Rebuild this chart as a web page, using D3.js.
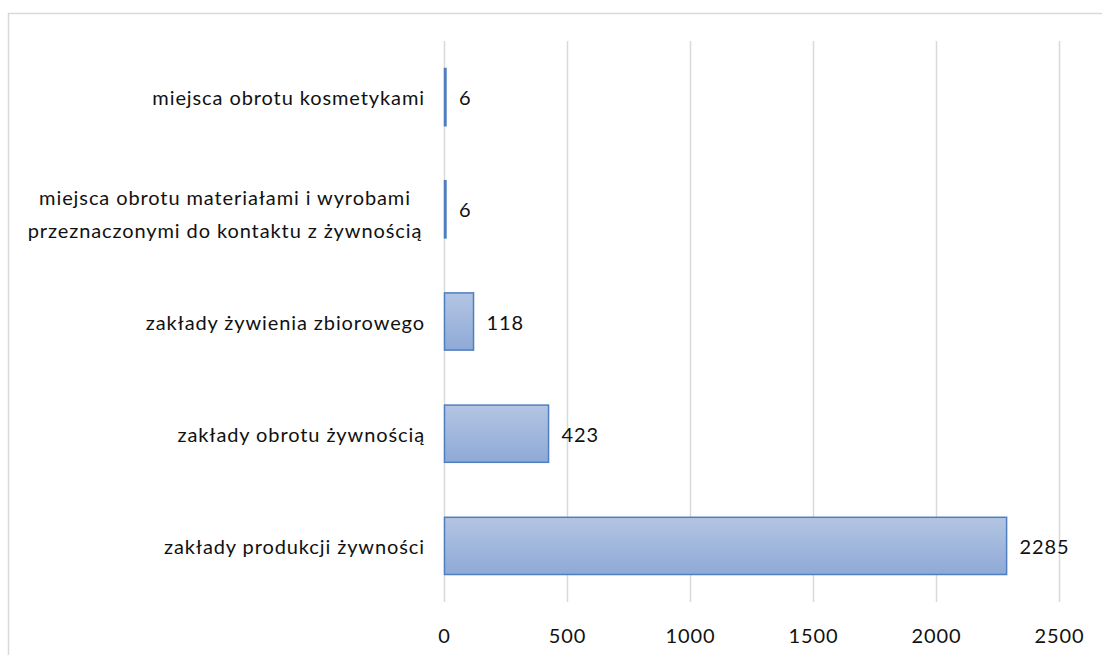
<!DOCTYPE html>
<html>
<head>
<meta charset="utf-8">
<script src="https://cdn.jsdelivr.net/npm/d3@7"></script>
<style>
  html, body { margin: 0; padding: 0; background: #fff; }
  svg { display: block; font-family: Lato, "Open Sans", sans-serif; }
</style>
</head>
<body>
<div id="chart"></div>
<script>
// dane wykresu
const categories = [
  ['miejsca obrotu kosmetykami'],
  ['miejsca obrotu materiałami i wyrobami', 'przeznaczonymi do kontaktu z żywnością'],
  ['zakłady żywienia zbiorowego'],
  ['zakłady obrotu żywnością'],
  ['zakłady produkcji żywności']
];
const values = [6, 6, 118, 423, 2285];
const xTicks = [0, 500, 1000, 1500, 2000, 2500];

const WIDTH = 1102;
const HEIGHT = 655;
const plot = { left: 444.5, right: 1059.5, top: 41, bottom: 602 };
const FONT = 20;
const SPACING = '0.9px';

const svg = d3.select('#chart')
  .append('svg')
  .attr('width', WIDTH)
  .attr('height', HEIGHT);

// gradient słupków
const grad = svg.append('defs').append('linearGradient')
  .attr('id', 'barGrad')
  .attr('x1', 0).attr('y1', 0).attr('x2', 0).attr('y2', 1);
grad.append('stop').attr('offset', '0%').attr('stop-color', '#b3c5e3');
grad.append('stop').attr('offset', '100%').attr('stop-color', '#8eaad6');

// ramka wykresu
svg.append('rect')
  .attr('x', 8.5).attr('y', 13.5)
  .attr('width', 1200).attr('height', 800)
  .attr('fill', 'none')
  .attr('stroke', '#d9d9d9')
  .attr('stroke-width', 1.5);

const x = d3.scaleLinear().domain([0, 2500]).range([plot.left, plot.right]);
const y = d3.scaleBand()
  .domain(d3.range(categories.length))
  .range([plot.top, plot.bottom])
  .paddingInner(0.49)
  .paddingOuter(0.245);

// linie siatki
svg.append('g')
  .selectAll('line')
  .data(xTicks)
  .join('line')
  .attr('x1', d => x(d)).attr('x2', d => x(d))
  .attr('y1', plot.top).attr('y2', plot.bottom)
  .attr('stroke', '#d9d9d9')
  .attr('stroke-width', 1.5);

// etykiety osi X
svg.append('g')
  .selectAll('text')
  .data(xTicks)
  .join('text')
  .attr('x', d => x(d))
  .attr('y', 635)
  .attr('text-anchor', 'middle')
  .attr('dominant-baseline', 'central')
  .attr('font-size', FONT)
  .attr('letter-spacing', SPACING)
  .attr('fill', '#111')
  .text(d => d);

// słupki
svg.append('g')
  .selectAll('rect')
  .data(values)
  .join('rect')
  .attr('x', x(0))
  .attr('y', (d, i) => y(i))
  .attr('width', d => x(d) - x(0))
  .attr('height', y.bandwidth())
  .attr('fill', 'url(#barGrad)')
  .attr('stroke', '#4f7fbf')
  .attr('stroke-width', 1.5);

// wartości
svg.append('g')
  .selectAll('text')
  .data(values)
  .join('text')
  .attr('x', d => x(d) + 13)
  .attr('y', (d, i) => y(i) + y.bandwidth() / 2)
  .attr('dominant-baseline', 'central')
  .attr('font-size', FONT)
  .attr('letter-spacing', SPACING)
  .attr('fill', '#111')
  .text(d => d);

// etykiety kategorii
svg.append('g')
  .selectAll('text')
  .data(categories)
  .join('text')
  .attr('font-size', FONT)
  .attr('letter-spacing', SPACING)
  .attr('fill', '#111')
  .each(function (lines, i) {
    const node = d3.select(this);
    const cy = y(i) + y.bandwidth() / 2;
    if (lines.length === 1) {
      node.attr('x', 425).attr('y', cy)
        .attr('text-anchor', 'end')
        .attr('dominant-baseline', 'central')
        .text(lines[0]);
      return;
    }
    const lh = 33;
    lines.forEach((l, k) => {
      node.append('tspan')
        .attr('x', 225)
        .attr('y', cy + (k - (lines.length - 1) / 2) * lh + 4)
        .attr('text-anchor', 'middle')
        .attr('dominant-baseline', 'central')
        .text(l);
    });
  });
</script>
</body>
</html>
